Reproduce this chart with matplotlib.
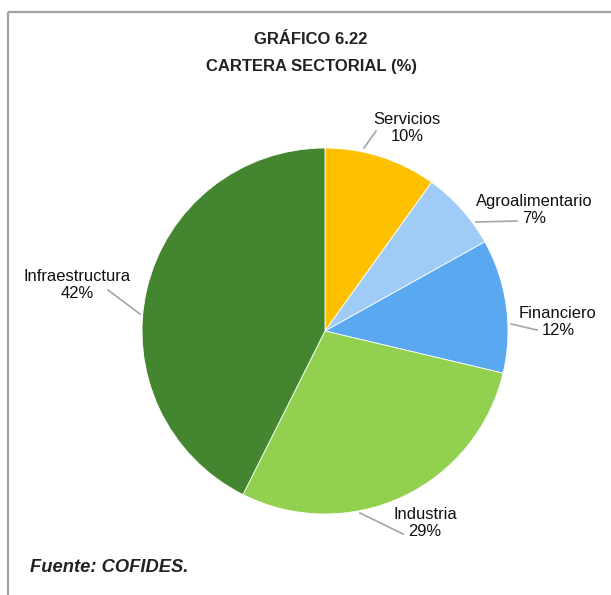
import matplotlib
matplotlib.use('Agg')
import matplotlib.pyplot as plt

plt.rcParams['font.family'] = ['Liberation Sans', 'DejaVu Sans']

sectores = ['Servicios', 'Agroalimentario', 'Financiero', 'Industria', 'Infraestructura']
valores = [9.9, 7.0, 11.8, 28.7, 42.6]   # shares
etiquetas_pct = ['10%', '7%', '12%', '29%', '42%']
colores = ['#FFC000', '#9FCCF6', '#5AA8F0', '#92D050', '#44862F']

# label positions and leader lines in pixels (x from left, y from top)
pos_etiquetas = [(407, 128), (534, 210), (558, 322), (425, 523), (77, 285)]
lineas = [((364, 148), (376, 131)),
          ((476, 222), (517, 221)),
          ((511, 324), (537, 330)),
          ((360, 513), (403, 534)),
          ((140, 314), (108, 290))]

W, H = 611, 595
fig = plt.figure(figsize=(W / 100, H / 100), dpi=100)
ax = fig.add_axes([0, 0, 1, 1])

ax.pie(valores, colors=colores, startangle=90, counterclock=False,
       center=(325, H - 331), radius=183, frame=True,
       wedgeprops=dict(edgecolor='white', linewidth=0.6))
ax.set_xlim(0, W)
ax.set_ylim(0, H)
ax.set_aspect('equal')
ax.axis('off')

for nombre, pct, (x, y), (p1, p2) in zip(sectores, etiquetas_pct, pos_etiquetas, lineas):
    ax.text(x, H - y, f'{nombre}\n{pct}', ha='center', va='center',
            fontsize=11.9, color='#111111', linespacing=1.15)
    ax.plot([p1[0], p2[0]], [H - p1[1], H - p2[1]], color='#A6A6A6', lw=1.2)

# frame (top and left)
ax.plot([8, W], [H - 12, H - 12], color='#A0A0A0', lw=1.6, solid_capstyle='butt')
ax.plot([8, 8], [H - 12, 0], color='#A0A0A0', lw=1.6, solid_capstyle='butt')

ax.text(311, H - 40, 'GRÁFICO 6.22', ha='center', va='center',
        fontsize=12, fontweight='bold', color='#222222')
ax.text(311, H - 66, 'CARTERA SECTORIAL (%)', ha='center', va='center',
        fontsize=12, fontweight='bold', color='#222222')
ax.text(30, H - 567, 'Fuente: COFIDES.', ha='left', va='center',
        fontsize=13.2, fontweight='bold', fontstyle='italic', color='#222222')

fig.savefig('out.png', dpi=100)
